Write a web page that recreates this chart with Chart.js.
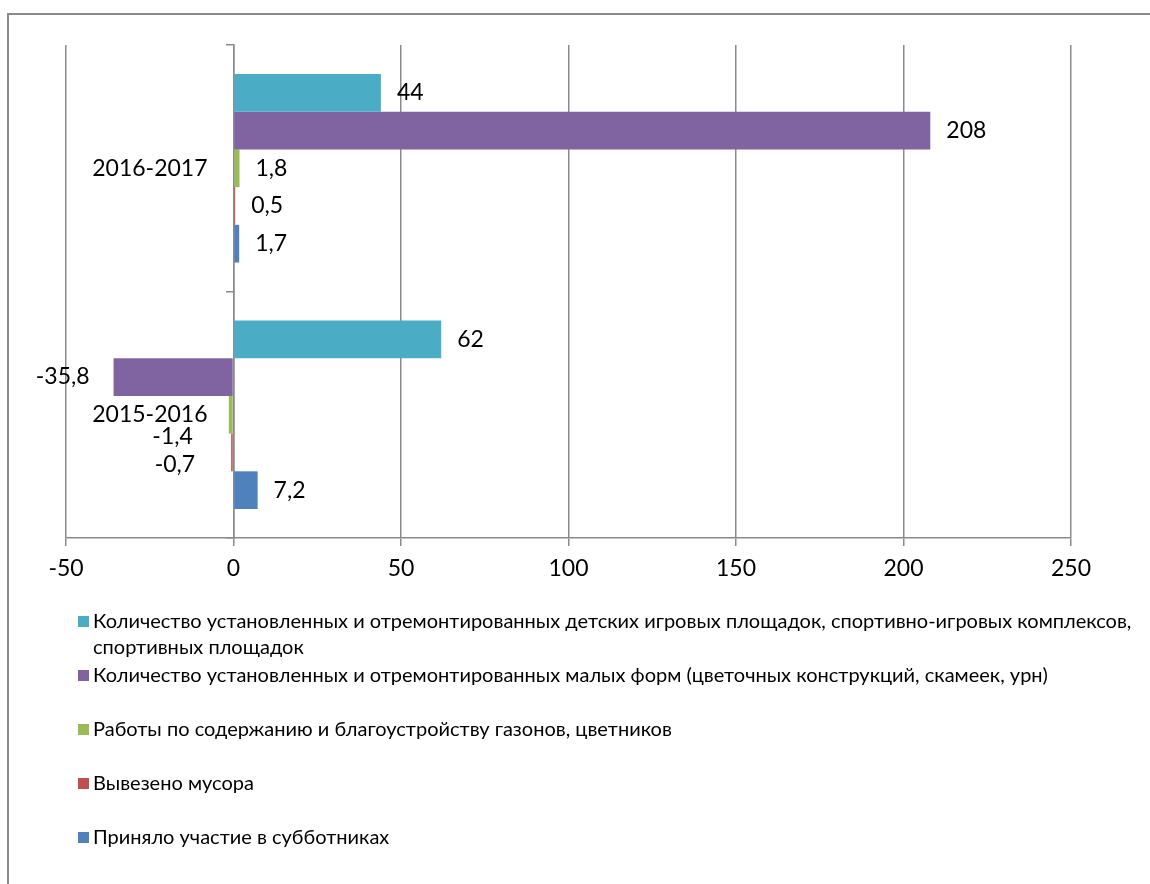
<!DOCTYPE html>
<html>
<head>
<meta charset="utf-8">
<script src="https://cdn.jsdelivr.net/npm/chart.js@4.4.0/dist/chart.umd.min.js"></script>
<style>
html, body { margin:0; padding:0; background:#fff; }
#wrap { position:relative; width:1150px; height:884px; }
#frame { position:absolute; left:7px; top:13px; right:0; bottom:0; border-left:2px solid #8a8a8a; border-top:2px solid #8a8a8a; }
canvas { position:absolute; left:0; top:0; }
</style>
</head>
<body>
<div id="wrap"><div id="frame"></div><canvas id="chart" width="1150" height="884"></canvas></div>
<script>
// categories, top to bottom as in the picture
const periods = ['2016-2017', '2015-2016'];
const seriesNames = [
    'Количество установленных и отремонтированных детских игровых площадок, спортивно-игровых комплексов, спортивных площадок',
    'Количество установленных и отремонтированных малых форм (цветочных конструкций, скамеек, урн)',
    'Работы по содержанию и благоустройству газонов, цветников',
    'Вывезено мусора',
    'Приняло участие в субботниках'
];
const playgrounds = [44, 62];
const smallForms = [208, -35.8];
const lawns = [1.8, -1.4];
const garbage = [0.5, -0.7];
const volunteers = [1.7, 7.2];
const xTicks = [-50, 0, 50, 100, 150, 200, 250];

const colors = ['#4BACC6', '#8064A2', '#9BBB59', '#C0504D', '#4F81BD'];
const gridColor = '#8a8a8a';
const fontFamily = "Lato, 'Open Sans', sans-serif";

const fmt = v => String(v).replace('.', ',');

// category names next to the zero line
const categoryLabels = {
    id:'categoryLabels',
    afterDatasetsDraw(chart){
        const {ctx, scales:{x, y}} = chart;
        const x0 = x.getPixelForValue(0);
        ctx.save();
        ctx.font = '23px ' + fontFamily;
        ctx.fillStyle = '#000';
        ctx.textAlign = 'right';
        ctx.textBaseline = 'middle';
        chart._catBoxes = [];
        periods.forEach((p, i)=>{
            const cy = y.getPixelForValue(i);
            const w = ctx.measureText(p).width;
            ctx.fillText(p, x0 - 26, cy);
            chart._catBoxes.push({l:x0 - 26 - w, r:x0 - 26, t:cy - 9, b:cy + 9});
        });
        ctx.restore();
    }
};

// value labels at bar ends, nudged down when they hit another text
const valueLabels = {
    id:'valueLabels',
    afterDatasetsDraw(chart){
        const {ctx} = chart;
        ctx.save();
        ctx.font = '23px ' + fontFamily;
        ctx.fillStyle = '#000';
        ctx.textBaseline = 'middle';
        const items = [];
        chart.data.datasets.forEach((ds, di)=>{
            chart.getDatasetMeta(di).data.forEach((bar, i)=>{
                const v = ds.data[i];
                const txt = fmt(v);
                const w = ctx.measureText(txt).width;
                const l = v >= 0 ? bar.x + 16 : bar.x - 24 - w;
                items.push({txt, l, r:l + w, y:bar.y});
            });
        });
        items.sort((a, b)=>a.y - b.y);
        const placed = (chart._catBoxes || []).slice();
        items.forEach(it=>{
            let cy = it.y;
            let l = it.l, r = it.r;
            placed.forEach(b=>{
                if(r > b.l && l < b.r && cy - 9 < b.b + 4 && cy + 9 > b.t - 4){
                    cy = b.b + 4 + 9;
                    l -= 12; r -= 12;
                }
            });
            ctx.textAlign = 'left';
            ctx.fillText(it.txt, l, cy);
            placed.push({l, r, t:cy - 9, b:cy + 15});
        });
        ctx.restore();
    }
};

// legend block below the plot
const legendBlock = {
    id:'legendBlock',
    afterDraw(chart){
        const {ctx} = chart;
        ctx.save();
        ctx.font = '20px ' + fontFamily;
        ctx.fillStyle = '#000';
        ctx.textBaseline = 'middle';
        const maxW = 1045;
        chart.data.datasets.forEach((ds, i)=>{
            const y0 = 622 + i * 54;
            const words = ds.label.split(' ');
            const lines = [];
            let line = '';
            words.forEach(wd=>{
                const t = line ? line + ' ' + wd : wd;
                if(ctx.measureText(t).width > maxW && line){ lines.push(line); line = wd; }
                else line = t;
            });
            lines.push(line);
            ctx.fillStyle = ds.backgroundColor;
            ctx.fillRect(78, y0 - 6, 11, 11);
            ctx.fillStyle = '#000';
            lines.forEach((ln, k)=>ctx.fillText(ln, 93, y0 + k * 26));
        });
        ctx.restore();
    }
};

const series = [playgrounds, smallForms, lawns, garbage, volunteers];

new Chart(document.getElementById('chart'), {
    type:'bar',
    data:{
        labels:periods,
        datasets:series.map((d, i)=>({
            label:seriesNames[i],
            data:d,
            backgroundColor:colors[i],
            borderWidth:0,
            categoryPercentage:0.765,
            barPercentage:1
        }))
    },
    options:{
        indexAxis:'y',
        responsive:false,
        animation:false,
        layout:{padding:{left:66, right:79, top:45, bottom:304}},
        plugins:{legend:{display:false}, tooltip:{enabled:false}},
        scales:{
            x:{
                type:'linear',
                min:-50, max:250,
                afterBuildTicks:s=>{ s.ticks = xTicks.map(v=>({value:v})); },
                afterFit:s=>{ s.height = 42; },
                grid:{color:gridColor, lineWidth:1.5, tickLength:8},
                border:{color:gridColor, width:1.5},
                ticks:{color:'#000', padding:9, font:{family:fontFamily, size:23}, callback:v=>fmt(v)}
            },
            y:{
                type:'category',
                position:{x:0},
                afterFit:s=>{ s.width = 0; },
                grid:{drawOnChartArea:false, color:gridColor, lineWidth:1.5, tickLength:7, offset:true},
                border:{color:gridColor, width:1.5},
                ticks:{display:false}
            }
        }
    },
    plugins:[categoryLabels, valueLabels, legendBlock]
});
</script>
</body>
</html>
